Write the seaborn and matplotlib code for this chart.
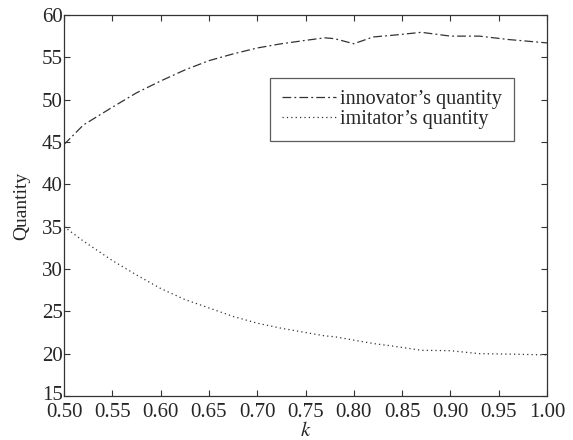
import numpy as np
import pandas as pd
import matplotlib
matplotlib.use("Agg")
import matplotlib.pyplot as plt
import matplotlib.transforms as mtransforms
import seaborn as sns

# values
k = [0.50, 0.52, 0.55, 0.575, 0.60, 0.625, 0.65, 0.675, 0.70, 0.725, 0.75,
     0.77, 0.78, 0.80, 0.82, 0.84, 0.87, 0.90, 0.93, 0.96, 1.00]
innovator = [44.7, 47.0, 49.1, 50.8, 52.2, 53.5, 54.6, 55.4, 56.1, 56.6, 57.0,
             57.3, 57.2, 56.6, 57.4, 57.6, 57.95, 57.5, 57.5, 57.1, 56.7]
imitator = [35.0, 33.3, 31.0, 29.3, 27.7, 26.4, 25.4, 24.4, 23.6, 23.0, 22.5,
            22.1, 22.0, 21.6, 21.2, 20.9, 20.4, 20.35, 20.0, 19.95, 19.85]
xticks = [0.50, 0.55, 0.60, 0.65, 0.70, 0.75, 0.80, 0.85, 0.90, 0.95, 1.00]
yticks = [15, 20, 25, 30, 35, 40, 45, 50, 55, 60]

sns.set_style("ticks")
plt.rcParams['font.family'] = ['Liberation Serif', 'DejaVu Serif']
plt.rcParams['mathtext.fontset'] = 'stix'

df = pd.DataFrame({"k": k, "innovator": innovator, "imitator": imitator})

fig = plt.figure(figsize=(5.73, 4.40), dpi=100)
ax = fig.add_axes([0.1117, 0.10, 0.843, 0.866])

sns.lineplot(data=df, x="k", y="innovator", ax=ax, color="#333333", lw=0.9,
             label="innovator’s quantity")
sns.lineplot(data=df, x="k", y="imitator", ax=ax, color="#333333", lw=0.9,
             label="imitator’s quantity")
ax.lines[0].set_dashes([7, 2.5, 1.5, 2.5])
ax.lines[1].set_dashes([1, 2.5])

ax.set_xlim(0.50, 1.00)
ax.set_ylim(15, 60)
ax.set_xticks(xticks)
ax.set_xticklabels([f"{t:.2f}" for t in xticks])
ax.set_yticks(yticks)
ax.tick_params(direction="in", top=True, right=True, labelsize=15,
               length=4, width=0.8, color="#333333")
ax.tick_params(axis="x", pad=5)
ax.tick_params(axis="y", pad=1)
for s in ax.spines.values():
    s.set_linewidth(0.9)
    s.set_color("#333333")

# nudge the lowest y label up a little so it clears "0.50"
lab15 = ax.get_yticklabels()[0]
lab15.set_transform(lab15.get_transform() +
                    mtransforms.ScaledTranslation(0, 3 / 100, fig.dpi_scale_trans))

ax.set_xlabel("$k$", fontsize=15, labelpad=0)
ax.set_ylabel("Quantity", fontsize=14, labelpad=8)

leg = ax.legend(loc="upper left", bbox_to_anchor=(0.426, 0.835), fontsize=14.5,
                frameon=True, fancybox=False, edgecolor="#333333",
                handlelength=2.7, borderpad=0.6, labelspacing=0.05,
                handletextpad=0.2, borderaxespad=0)
leg.get_frame().set_linewidth(0.9)
for h in leg.get_lines():
    h.set_color("#333333")
leg.get_lines()[0].set_dashes([7, 2.5, 1.5, 2.5])
leg.get_lines()[1].set_dashes([1, 2.5])

fig.savefig("out.png", dpi=100)
